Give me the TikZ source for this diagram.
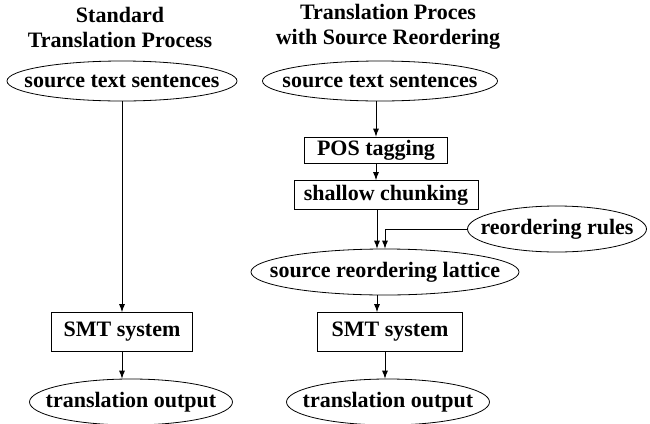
\documentclass[tikz,border=0pt]{standalone}
\usepackage{fontspec}
\setmainfont{Liberation Serif}
\usetikzlibrary{shapes.geometric,calc}

\begin{document}
\begin{tikzpicture}[x=0.5pt, y=-0.5pt,
	every node/.style={font=\bfseries\fontsize{11}{12.5}\selectfont},
	blob/.style={ellipse, draw, inner xsep=-30pt, inner ysep=0pt},
	proc/.style={rectangle, draw, inner sep=0pt},
	arrow/.style={-latex}]
	\useasboundingbox (0,0) rectangle (650,424);

	\node[align=center] (titleL) at (120,27) {Standard\\Translation Process};
	\node[align=center] (titleR) at (388,27) {Translation Proces\\with Source Reordering};

	% standard process
	\node[blob, minimum width=115pt, minimum height=20pt] (srcL) at (122,81) {source text sentences};
	\node[proc, minimum width=70.5pt, minimum height=19.5pt] (smtL) at (122,332) {SMT system};
	\node[blob, minimum width=101.5pt, minimum height=23pt] (outL) at (131,402) {translation output};

	% process with reordering
	\node[blob, minimum width=117.5pt, minimum height=20pt] (srcR) at (380,81) {source text sentences};
	\node[proc, minimum width=71.5pt, minimum height=13pt] (pos) at (376,150) {POS tagging};
	\node[proc, minimum width=92pt, minimum height=14.5pt] (shallow) at (386,195) {shallow chunking};
	\node[blob, minimum width=89.5pt, minimum height=23pt] (rules) at (557,229) {reordering rules};
	\node[blob, minimum width=134pt, minimum height=23pt] (lattice) at (385,272) {source reordering lattice};
	\node[proc, minimum width=72.5pt, minimum height=19.5pt] (smtR) at (390,332) {SMT system};
	\node[blob, minimum width=101.5pt, minimum height=23pt] (outR) at (388,402) {translation output};

	\coordinate (inL) at ($(lattice.north)+(-8,0)$);
	\coordinate (inR) at (lattice.north);

	\draw[arrow] (srcL.south) -- (srcL.south |- smtL.north);
	\draw[arrow] (smtL.south) -- (smtL.south |- outL.north);

	\draw[arrow] (pos.north |- srcR.south) -- (pos.north);
	\draw[arrow] (pos.south) -- (pos.south |- shallow.north);
	\draw[arrow] (shallow.south -| inL) -- (inL);
	\draw[arrow] (rules.west) -| (inR);
	\draw[arrow] (lattice.south -| inL) -- (smtR.north -| inL);
	\draw[arrow] (smtR.south -| lattice.south) -- (outR.north -| lattice.south);
\end{tikzpicture}
\end{document}
